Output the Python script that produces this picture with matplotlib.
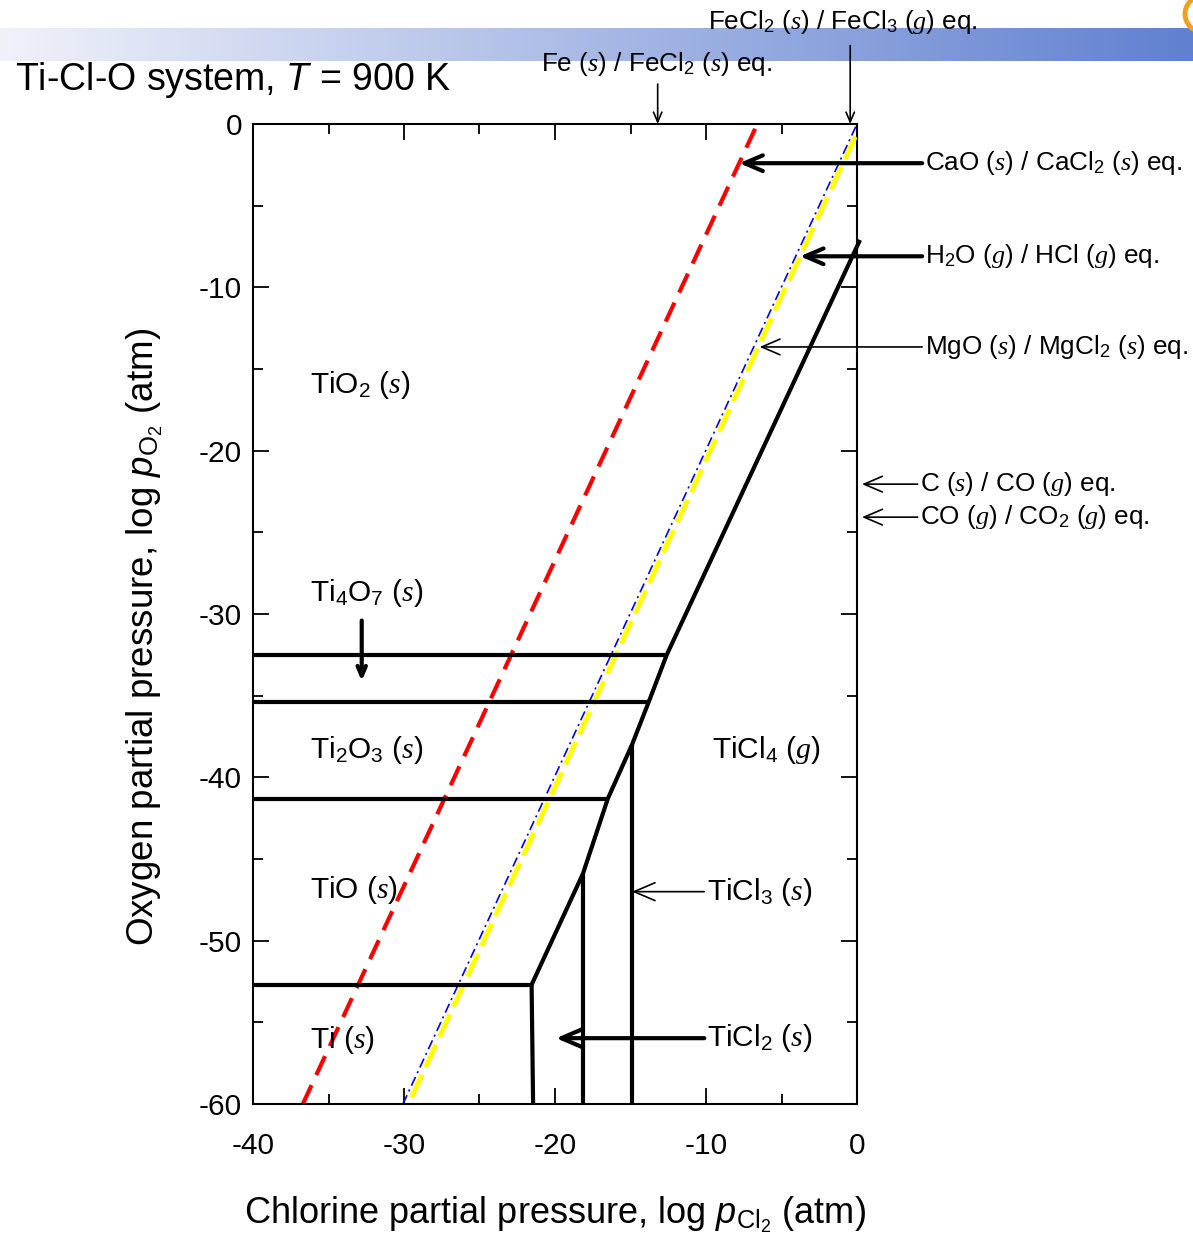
import numpy as np
import matplotlib
matplotlib.use("Agg")
import matplotlib.pyplot as plt
from matplotlib.patches import Circle

plt.rcParams["font.family"] = ["Liberation Sans", "DejaVu Sans"]
plt.rcParams["mathtext.fontset"] = "custom"
plt.rcParams["mathtext.rm"] = "Liberation Sans"
plt.rcParams["mathtext.it"] = "Liberation Serif:italic"
plt.rcParams["mathtext.sf"] = "Liberation Sans:italic"
plt.rcParams["lines.scale_dashes"] = False

# ---- phase boundaries of the Ti-Cl-O predominance diagram (log pCl2, log pO2)
# horizontal oxide/oxide boundaries, ending where they meet the chloride field
oxide_levels = [-32.5, -35.4, -41.3, -52.7]
oxide_level_ends = [-12.6, -13.8, -16.5, -21.55]

# oxide / chloride boundary, traced from top right down to the Ti corner
edge_x = [0.2, -12.6, -13.8, -14.9, -16.5, -18.15, -21.55]
edge_y = [-7.1, -32.5, -35.4, -38.0, -41.3, -45.9, -52.7]

# vertical chloride / chloride boundaries
chloride_x_top = [-14.9, -18.15, -21.55]
chloride_x_bottom = [-14.9, -18.15, -21.45]
chloride_y_top = [-38.0, -45.9, -52.7]

# reference equilibria (slope-2 lines)
cao_x = [-36.7, -6.6]
cao_y = [-60.0, 0.0]
mgo_x = [-30.07, 0.0]
mgo_y = [-60.0, 0.0]
h2o_x = [-29.5, 0.0]
h2o_y = [-59.6, -0.55]

x_ticks = [-40, -30, -20, -10, 0]
y_ticks = [0, -10, -20, -30, -40, -50, -60]

W, H = 1193, 1244
fig = plt.figure(figsize=(W / 100, H / 100), dpi=100)

# slide header gradient band
band = fig.add_axes([0, 1 - 61 / H, 1, 33 / H], zorder=0)
c0 = np.array([240, 242, 250]) / 255
c1 = np.array([96, 128, 208]) / 255
t = np.linspace(0, 1, 512)
grad = (c0[None, :] * (1 - t[:, None]) + c1[None, :] * t[:, None])[None, :, :]
band.imshow(grad, aspect="auto", extent=[0, 1, 0, 1])
band.set_axis_off()

# corner logo fragment
fig.patches.append(Circle((1203, H - 14), 18, transform=None, fill=False,
                          edgecolor="#f0a020", lw=3.5, zorder=1))

ax = fig.add_axes([253 / W, 1 - 1104 / H, 604 / W, 980 / H], zorder=2)
ax.set_xlim(-40, 0)
ax.set_ylim(-60, 0)

# colored reference lines
ax.plot(cao_x, cao_y, color="#ff0000", lw=3.0, dashes=(15, 8), zorder=2)
ax.plot(mgo_x, mgo_y, color="#0000ff", lw=1.2, dashes=(7, 3, 1.5, 3), zorder=2)
ax.plot(h2o_x, h2o_y, color="#ffff00", lw=3.6, dashes=(18, 6), zorder=3)

# black phase boundaries
blk = dict(color="black", lw=3.0, solid_capstyle="butt", zorder=4)
for yl, xe in zip(oxide_levels, oxide_level_ends):
    ax.plot([-40, xe], [yl, yl], **blk)
ax.plot(edge_x, edge_y, clip_on=False, solid_joinstyle="miter", **blk)
for xt, xb, yt in zip(chloride_x_top, chloride_x_bottom, chloride_y_top):
    ax.plot([xt, xb], [yt, -60], **blk)

# axes styling
for s in ax.spines.values():
    s.set_linewidth(1.5)
ax.set_xticks(x_ticks)
ax.set_yticks(y_ticks)
ax.set_xticklabels([str(v) for v in x_ticks])
ax.set_yticklabels([str(v) for v in y_ticks])
ax.set_xticks(np.arange(-35, 0, 10), minor=True)
ax.set_yticks(np.arange(-55, 0, 10), minor=True)
ax.tick_params(which="both", direction="in", top=True, right=True, width=1.3)
ax.tick_params(which="major", length=11.5, labelsize=21.5, pad=8)
ax.tick_params(which="minor", length=7)
ax.tick_params(axis="x", which="major", pad=20)

ax.set_xlabel(r"Chlorine partial pressure, log $\mathsf{p}_{\mathrm{Cl_2}}$ (atm)",
              fontsize=26, va="center")
ax.xaxis.set_label_coords(0.5, (1104 - 1215) / 980)
ax.set_ylabel(r"Oxygen partial pressure, log $\mathsf{p}_{\mathrm{O_2}}$ (atm)",
              fontsize=26.5, va="center")
ax.yaxis.set_label_coords((145 - 253) / 604, (1104 - 637) / 980)

fig.text(15 / W, 1 - 80 / H, r"Ti-Cl-O system, $\mathsf{T}$ = 900 K",
         fontsize=27, ha="left", va="center")

# phase field labels
fs_phase = 21.5
ax.text(-36.2, -16.0, r"TiO$_2$ ($\mathit{s}$)", fontsize=fs_phase, va="center")
ax.text(-36.2, -28.7, r"Ti$_4$O$_7$ ($\mathit{s}$)", fontsize=fs_phase, va="center")
ax.text(-36.2, -38.3, r"Ti$_2$O$_3$ ($\mathit{s}$)", fontsize=fs_phase, va="center")
ax.text(-36.2, -46.9, r"TiO ($\mathit{s}$)", fontsize=fs_phase, va="center")
ax.text(-36.2, -56.1, r"Ti ($\mathit{s}$)", fontsize=fs_phase, va="center")
ax.text(-9.6, -38.3, r"TiCl$_4$ ($\mathit{g}$)", fontsize=fs_phase, va="center")

thin = dict(arrowstyle="->,head_length=0.7,head_width=0.3", lw=1.2, color="black",
            shrinkA=0, shrinkB=0)
thick = dict(arrowstyle="->,head_length=0.7,head_width=0.3", lw=3.0, color="black",
             shrinkA=0, shrinkB=0)

ax.annotate(r"TiCl$_3$ ($\mathit{s}$)", xy=(-14.9, -47.0), xytext=(-9.93, -47.0),
            fontsize=fs_phase, va="center", ha="left", arrowprops=thin, zorder=5)
ax.annotate(r"TiCl$_2$ ($\mathit{s}$)", xy=(-19.93, -55.97), xytext=(-9.93, -55.97),
            fontsize=fs_phase, va="center", ha="left", arrowprops=thick, zorder=5)
ax.annotate("", xy=(-32.8, -34.1), xytext=(-32.8, -30.4), arrowprops=thick)

# right-hand equilibrium labels
fs_eq = 18.8
right = [
    (r"CaO ($\mathit{s}$) / CaCl$_2$ ($\mathit{s}$) eq.", 4.5, -2.4, -7.8, thick),
    (r"H$_2$O ($\mathit{g}$) / HCl ($\mathit{g}$) eq.", 4.5, -8.1, -3.78, thick),
    (r"MgO ($\mathit{s}$) / MgCl$_2$ ($\mathit{s}$) eq.", 4.5, -13.65, -6.45, thin),
    (r"C ($\mathit{s}$) / CO ($\mathit{g}$) eq.", 4.2, -22.05, 0.33, thin),
    (r"CO ($\mathit{g}$) / CO$_2$ ($\mathit{g}$) eq.", 4.2, -24.07, 0.33, thin),
]
for txt, xt, yv, xtip, ap in right:
    ax.annotate(txt, xy=(xtip, yv), xytext=(xt, yv), fontsize=fs_eq, ha="left",
                va="center", arrowprops=ap, annotation_clip=False, zorder=6)

# top equilibrium labels
ax.text(-0.93, 6.25, r"FeCl$_2$ ($\mathit{s}$) / FeCl$_3$ ($\mathit{g}$) eq.",
        fontsize=fs_eq, ha="center", va="center", clip_on=False)
ax.annotate("", xy=(-0.45, 0), xytext=(-0.45, 4.8), arrowprops=thin,
            annotation_clip=False)
ax.text(-13.25, 3.67, r"Fe ($\mathit{s}$) / FeCl$_2$ ($\mathit{s}$) eq.",
        fontsize=fs_eq, ha="center", va="center", clip_on=False)
ax.annotate("", xy=(-13.2, 0), xytext=(-13.2, 2.45), arrowprops=thin,
            annotation_clip=False)

fig.savefig("out.png", dpi=100)
